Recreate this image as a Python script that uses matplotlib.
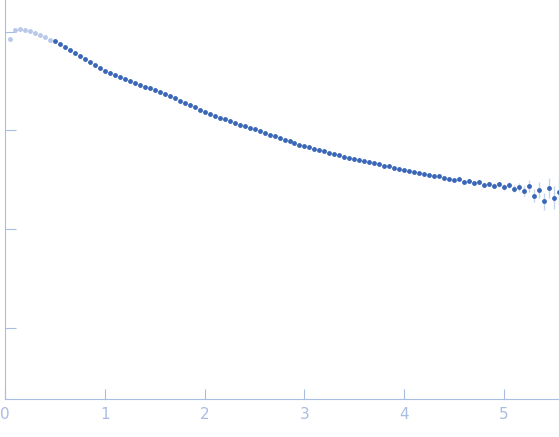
import numpy as np
import matplotlib
matplotlib.use("Agg")
import matplotlib.pyplot as plt

# scattering vector s (nm^-1), step 0.05
s = np.round(np.arange(1, 112) * 0.05, 2)

# log10 intensity
log_i = [
    -0.07, 0.02, 0.03, 0.02, 0.01, -0.01, -0.03, -0.05, -0.08, -0.10,
    -0.13, -0.16, -0.19, -0.22, -0.25, -0.28, -0.31, -0.34, -0.37, -0.40,
    -0.42, -0.44, -0.46, -0.48, -0.50, -0.52, -0.54, -0.56, -0.575, -0.59,
    -0.61, -0.63, -0.655, -0.675, -0.70, -0.72, -0.745, -0.765, -0.79, -0.81,
    -0.83, -0.85, -0.87, -0.885, -0.905, -0.925, -0.945, -0.96, -0.975, -0.99,
    -1.01, -1.03, -1.045, -1.06, -1.08, -1.095, -1.11, -1.13, -1.145, -1.16,
    -1.17, -1.185, -1.20, -1.21, -1.225, -1.24, -1.25, -1.265, -1.275, -1.29,
    -1.30, -1.31, -1.325, -1.335, -1.345, -1.36, -1.365, -1.38, -1.39, -1.405,
    -1.41, -1.425, -1.43, -1.44, -1.45, -1.465, -1.46, -1.48, -1.49, -1.50,
    -1.495, -1.52, -1.51, -1.53, -1.525, -1.55, -1.54, -1.56, -1.545, -1.575,
    -1.55, -1.59, -1.57, -1.61, -1.56, -1.66, -1.60, -1.72, -1.58, -1.68, -1.62,
]

# error (log units) for the noisy tail, s >= 4.5
tail_err = [0.01, 0.01, 0.015, 0.015, 0.02, 0.02, 0.02, 0.025, 0.025, 0.03,
            0.03, 0.035, 0.04, 0.05, 0.06, 0.07, 0.08, 0.09, 0.10, 0.12, 0.15]

log_i = np.array(log_i)
err = np.zeros_like(log_i)
err[-len(tail_err):] = tail_err
I = 10 ** log_i
lo = I - 10 ** (log_i - err)
hi = 10 ** (log_i + err) - I

axis_col = "#a9bde3"
fig, ax = plt.subplots(figsize=(5.59, 4.37), dpi=100)
fig.subplots_adjust(left=0.009, right=1.0, top=1.0, bottom=0.087)

light = s < 0.47
ax.errorbar(s[~light], I[~light], yerr=[lo[~light], hi[~light]], fmt="none",
            ecolor="#c5d3ee", elinewidth=1)
ax.plot(s[light], I[light], "o", ms=3.5, color="#b8c8e8", mec="none")
ax.plot(s[~light], I[~light], "o", ms=3.5, color="#3a66b8", mec="none")

ax.set_yscale("log")
ax.set_xlim(0, 5.55)
ax.set_ylim(10 ** -3.72, 10 ** 0.32)
ax.set_xticks([0, 1, 2, 3, 4, 5])
ax.set_yticks([1, 0.1, 0.01, 0.001])
ax.yaxis.set_minor_locator(matplotlib.ticker.NullLocator())
ax.set_yticklabels([])
for side in ["top", "right"]:
    ax.spines[side].set_visible(False)
for side in ["left", "bottom"]:
    ax.spines[side].set_color(axis_col)
ax.tick_params(colors=axis_col, labelcolor=axis_col, labelsize=11,
               direction="in", length=8)
ax.tick_params(axis="x", length=7, pad=6)

fig.savefig("out.png")
